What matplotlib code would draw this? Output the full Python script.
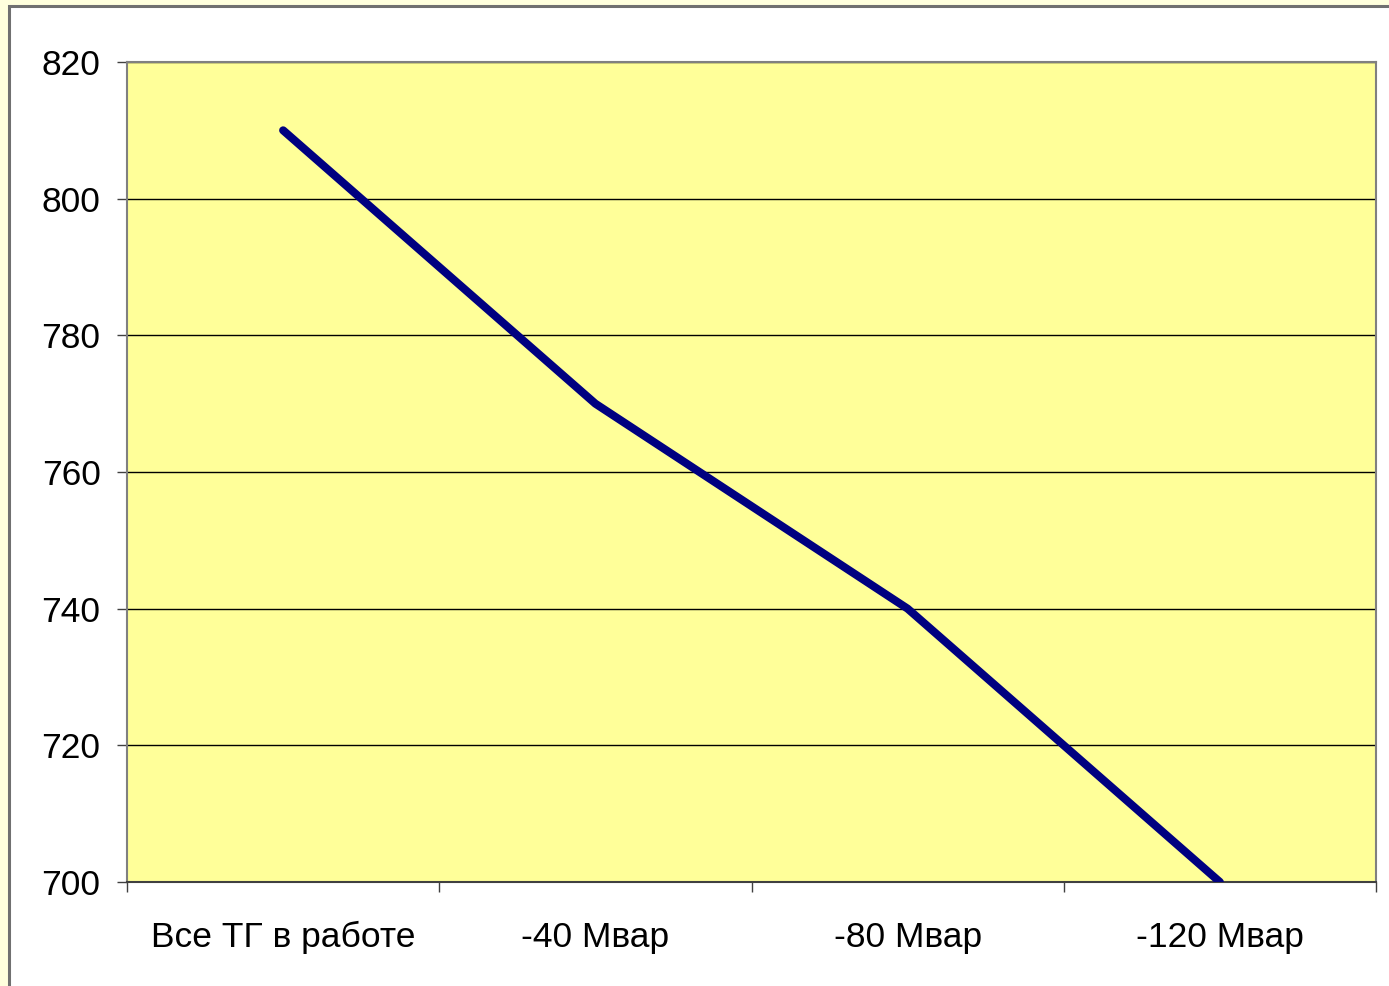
import matplotlib
matplotlib.use("Agg")
import matplotlib.pyplot as plt
from matplotlib.patches import Rectangle
import numpy as np

categories = ["Все ТГ в работе", "-40 Мвар", "-80 Мвар", "-120 Мвар"]
values = [810, 770, 740, 700]
y_ticks = [700, 720, 740, 760, 780, 800, 820]

plt.rcParams['font.family'] = ['Liberation Sans', 'DejaVu Sans']

fig = plt.figure(figsize=(13.89, 9.86), dpi=100)
fig.patch.set_facecolor("#FFFFDD")

# white chart area with grey frame (runs off the right and bottom edges)
fig.patches.append(Rectangle((9 / 1389, -0.1), 1.2, 1.1 - 6 / 986,
                             transform=fig.transFigure, facecolor="white",
                             edgecolor="#707070", linewidth=2.2, zorder=-5))

ax = fig.add_axes([127 / 1389, 104 / 986, 1249 / 1389, 820 / 986])
ax.set_facecolor("#FFFF99")

x = np.arange(len(categories))
ax.plot(x, values, color="#000080", linewidth=5.8, solid_capstyle="round",
        solid_joinstyle="round", zorder=3)

ax.set_xlim(-0.5, len(categories) - 0.5)
ax.set_ylim(700, 820)
ax.set_yticks(y_ticks)
ax.yaxis.grid(True, color="black", linewidth=1)
ax.set_axisbelow(True)

ax.set_xticks(x)
ax.set_xticklabels(categories)
ax.set_xticks(np.arange(-0.5, len(categories), 1.0), minor=True)
ax.tick_params(axis="x", which="major", length=0, pad=28, labelsize=25.5)
ax.tick_params(axis="x", which="minor", length=7, width=1, color="#404040")
ax.tick_params(axis="y", length=7, width=1, pad=12, labelsize=25.5, color="#404040")

for s in ax.spines.values():
    s.set_color("#808080")
    s.set_linewidth(1.5)
ax.spines["bottom"].set_color("#404040")

fig.savefig("out.png", dpi=100, facecolor=fig.get_facecolor())
